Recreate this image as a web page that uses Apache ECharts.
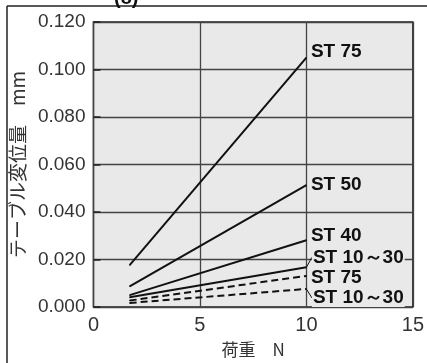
<!DOCTYPE html>
<html>
<head>
<meta charset="utf-8">
<script src="https://cdn.jsdelivr.net/npm/echarts@6/dist/echarts.min.js"></script>
<style>
  * { margin: 0; padding: 0; }
  body { background: #fff; }
</style>
</head>
<body>
<div id="main" style="width: 427px;height: 363px;"></div>
<script>
    // 荷重 N (start / end of every line)
    var loads = [1.7, 10];
    var st75 = [0.0176, 0.105];
    var st50 = [0.0087, 0.0513];
    var st40 = [0.0050, 0.0281];
    var st1030 = [0.0041, 0.0167];
    var st75Dash = [0.0027, 0.0131];
    var st1030Dash = [0.0017, 0.0076];
    var xTicks = [0, 5, 10, 15];
    var yTicks = [0, 0.02, 0.04, 0.06, 0.08, 0.1, 0.12];

    var numFont = "'Liberation Sans Narrow', 'Liberation Sans', sans-serif";
    var cjkFont = "'Noto Sans CJK JP', sans-serif";

    function makeSeries(name, values, dashed, dy, leader) {
        var data = loads.map(function (x, i) {
            var item = {value: [x, values[i]]};
            if (i === loads.length - 1) {
                item.label = {show: true};
            }
            return item;
        });
        return {
            name: name,
            type: 'line',
            data: data,
            symbol: 'circle',
            symbolSize: 1,
            showSymbol: true,
            itemStyle: {color: '#111'},
            silent: true,
            lineStyle: {
                color: '#111',
                width: 2,
                type: dashed ? [7, 4] : 'solid'
            },
            label: {
                show: false,
                position: 'right',
                distance: 3,
                formatter: name.trim(),
                color: '#111',
                fontFamily: "'Liberation Sans', Arial, sans-serif",
                fontWeight: 'bold',
                fontSize: 19,
                lineHeight: 18,
                backgroundColor: '#e8e9e8',
                padding: [0, 1, 0, 1]
            },
            labelLayout: {dx: leader ? 2 : 0, dy: dy},
            labelLine: {
                show: !!leader,
                lineStyle: {color: '#111', width: 1}
            },
            z: 3
        };
    }

    var chart = echarts.init(document.getElementById('main'));
    chart.setOption({
        animation: false,
        backgroundColor: '#fff',
        grid: {
            left: 90,
            top: 22,
            right: 12,
            bottom: 55,
            show: true,
            backgroundColor: '#e8e9e8',
            borderColor: '#222',
            borderWidth: 1.5
        },
        xAxis: {
            type: 'value',
            min: 0,
            max: 15,
            interval: 5,
            name: '荷重　N',
            nameLocation: 'middle',
            nameGap: 34,
            nameTextStyle: {color: '#333', fontSize: 17, fontFamily: cjkFont},
            axisLine: {show: false},
            axisTick: {show: false},
            axisLabel: {
                color: '#333',
                fontSize: 20,
                fontFamily: numFont,
                margin: 8,
                formatter: function (v) {
                    return xTicks.indexOf(v) >= 0 ? String(v) : '';
                }
            },
            splitLine: {show: true, lineStyle: {color: '#444', width: 1.3}}
        },
        yAxis: {
            type: 'value',
            min: 0,
            max: 0.12,
            interval: 0.02,
            name: 'テーブル変位量　mm',
            nameLocation: 'middle',
            nameRotate: 90,
            nameGap: 60,
            nameTextStyle: {color: '#333', fontSize: 19, fontFamily: cjkFont},
            axisLine: {show: false},
            axisTick: {show: true, inside: true, length: 7, lineStyle: {color: '#222', width: 1.5}},
            axisLabel: {
                color: '#333',
                fontSize: 19,
                fontFamily: numFont,
                margin: 8,
                formatter: function (v) {
                    var t = yTicks.filter(function (y) { return Math.abs(y - v) < 1e-9; });
                    return t.length ? t[0].toFixed(3) : '';
                }
            },
            splitLine: {show: true, lineStyle: {color: '#444', width: 1.3}}
        },
        graphic: [
            {type: 'line', shape: {x1: 7, y1: 6, x2: 7, y2: 363}, style: {stroke: '#222', lineWidth: 1.5}},
            {type: 'line', shape: {x1: 7, y1: 6, x2: 427, y2: 6}, style: {stroke: '#222', lineWidth: 1.5}},
            {type: 'text', left: 114, top: -12, style: {text: '(8)', font: "bold 20px 'Liberation Sans', sans-serif", fill: '#111'}}
        ],
        series: [
            makeSeries('ST 75', st75, false, -6, false),
            makeSeries('ST 50', st50, false, 0, false),
            makeSeries('ST 40', st40, false, -4, false),
            makeSeries('ST 10～30', st1030, false, -10, true),
            makeSeries('ST 75 ', st75Dash, true, 2, false),
            makeSeries('ST 10～30 ', st1030Dash, true, 9, true)
        ]
    });
</script>
</body>
</html>
